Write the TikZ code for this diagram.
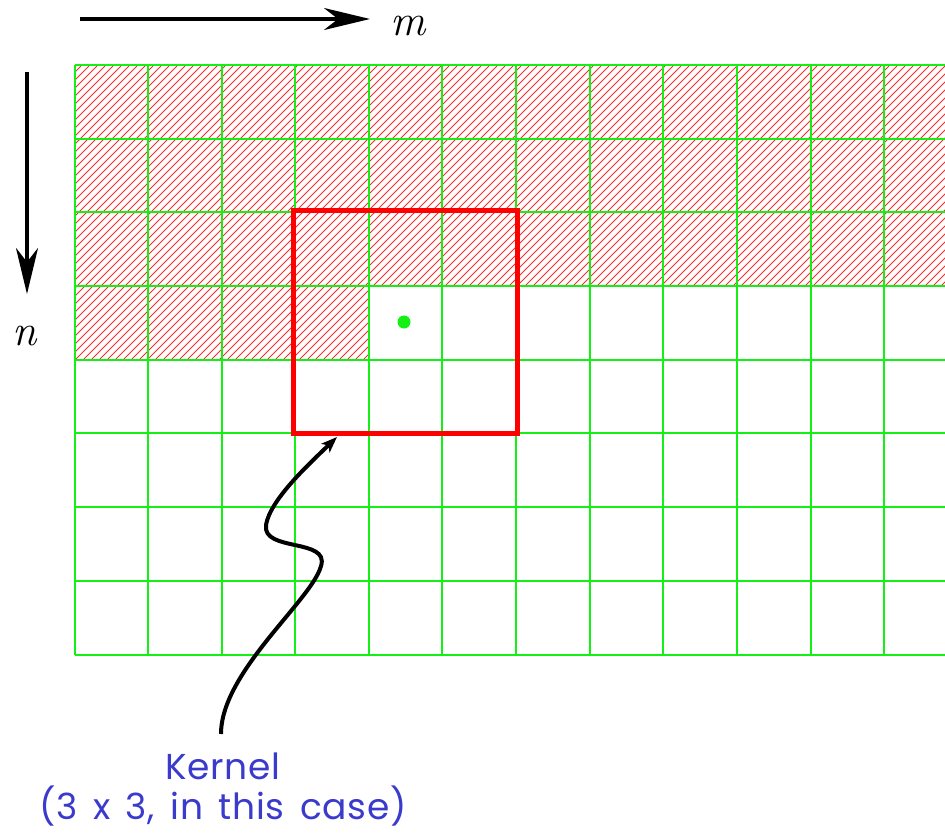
\documentclass[tikz,border=0pt]{standalone}
\usepackage{fontspec}
\newfontfamily\labelfont[WordSpace=1.5, LetterSpace=2]{Poppins}
\usetikzlibrary{arrows.meta}
\definecolor{gridgreen}{RGB}{20,240,20}
\definecolor{hatchred}{RGB}{255,40,40}
\definecolor{labelblue}{RGB}{58,58,204}
\tikzset{
  gridline/.style={draw=gridgreen, line width=1.5pt},
  hatchline/.style={draw=hatchred, line width=0.75pt},
  kernelbox/.style={draw=red, line width=5pt, minimum width=224pt, minimum height=223pt, inner sep=0pt},
  axisarrow/.style={line width=3.5pt, -{Stealth[length=46pt, width=22pt, inset=14pt]}},
  axislabel/.style={font=\fontsize{44}{50}\selectfont\itshape, anchor=base, inner sep=0pt},
  pointer/.style={line width=4pt, -{Stealth[length=16pt, width=12pt, inset=4pt]}},
}
\begin{document}
\begin{tikzpicture}[x=1pt, y=-1pt]
\useasboundingbox (0,0) rectangle (945,833);

% hatched region: first three rows and four cells of the fourth
\begin{scope}
  \clip (75,65) rectangle (945,286) (75,286) rectangle (369,360);
  \foreach \k in {0,...,150}{
    \draw[hatchline] ({-222+\k*8},361) -- ({-222+\k*8+297},64);
  }
\end{scope}

% the grid, drawn as one path
\draw[gridline]
  \foreach \x in {75,148,222,295,369,442,516,590,663,737,811,884}{ (\x,65) -- (\x,655) }
  \foreach \y in {65,139,212,286,360,433,507,581,655}{ (75,\y) -- (945,\y) };

% centre pixel of the kernel
\fill[gridgreen] (404,322) circle (6.5pt);

% kernel window
\node[kernelbox] (kbox) at (405,322) {};

% axes
\coordinate (mstart) at (80,19);
\coordinate (mend) at (370,19);
\draw[axisarrow] (mstart) -- (mend);
\node[axislabel] (mlab) at (408,35) {m};
\coordinate (nstart) at (27,72);
\coordinate (nend) at (27,294);
\draw[axisarrow] (nstart) -- (nend);
\node[axislabel] (nlab) at (25,345) {n};

% label and pointer
\node[text=labelblue, align=center, font=\labelfont\fontsize{36}{40}\selectfont] (klab) at (223,790)
  {Kernel\\(3 x 3, in this case)};
\coordinate (ptip) at (337,437);
\coordinate (pstart) at (221,734);
\draw[pointer] (pstart) .. controls (221,672) and (312,600) .. (321,566)
  .. controls (330,538) and (262,552) .. (266,525)
  .. controls (270,500) and (308,465) .. (ptip);
\end{tikzpicture}
\end{document}
